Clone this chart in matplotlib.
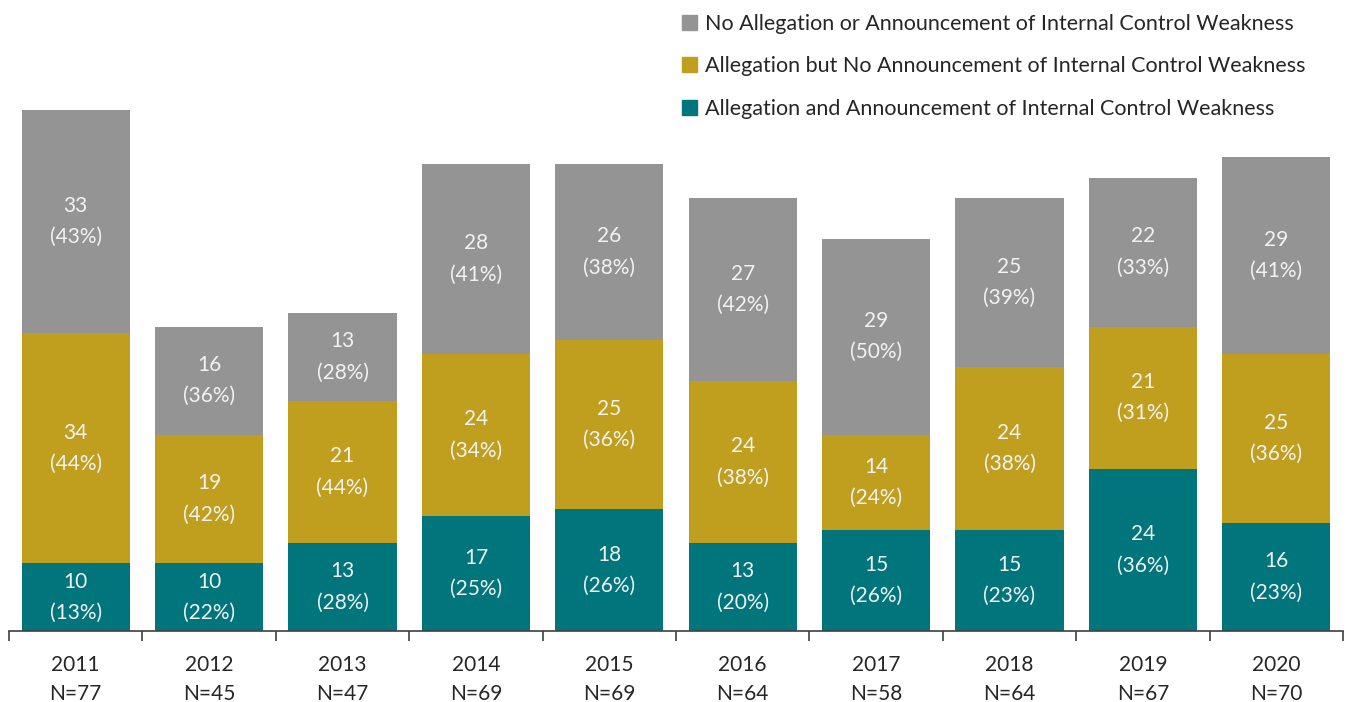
import numpy as np
import matplotlib
matplotlib.use("Agg")
import matplotlib.pyplot as plt
from matplotlib.patches import Patch

years = ["2011", "2012", "2013", "2014", "2015", "2016", "2017", "2018", "2019", "2020"]
both = [10, 10, 13, 17, 18, 13, 15, 15, 24, 16]          # allegation and announcement
alleg_only = [34, 19, 21, 24, 25, 24, 14, 24, 21, 25]    # allegation, no announcement
neither = [33, 16, 13, 28, 26, 27, 29, 25, 22, 29]       # no allegation or announcement
# percentages as printed in the chart (rounded to sum to 100)
both_pct = [13, 22, 28, 25, 26, 20, 26, 23, 36, 23]
alleg_pct = [44, 42, 44, 34, 36, 38, 24, 38, 31, 36]
neither_pct = [43, 36, 28, 41, 38, 42, 50, 39, 33, 41]
series_names = ["Allegation and Announcement of Internal Control Weakness",
                "Allegation but No Announcement of Internal Control Weakness",
                "No Allegation or Announcement of Internal Control Weakness"]
COLORS = ["#00767C", "#C09F1E", "#949494"]

plt.rcParams["font.family"] = ["Lato", "DejaVu Sans"]

fig = plt.figure(figsize=(13.51, 7.02), dpi=100)
ax = fig.add_axes([9 / 1351, 71 / 702, 1334 / 1351, 631 / 702])

x = np.arange(len(years))
data = [np.array(both), np.array(alleg_only), np.array(neither)]
pcts = [both_pct, alleg_pct, neither_pct]
totals = sum(data)
bottom = np.zeros(len(years))
for vals, pc, col, name in zip(data, pcts, COLORS, series_names):
    ax.bar(x, vals, bottom=bottom, width=0.81, color=col, label=name)
    for xi, v, b, p in zip(x, vals, bottom, pc):
        ax.text(xi, b + v / 2, f"{v}\n({p}%)", ha="center", va="center",
                color="#F2F2F2", fontsize=15, linespacing=1.7)
    bottom = bottom + vals

ax.set_xlim(-0.5, len(years) - 0.5)
ax.set_ylim(0, 77 * 631 / 521)
ax.set_xticks(x)
ax.set_xticklabels([f"{y}\nN={t}" for y, t in zip(years, totals)], fontsize=15,
                   color="#262626", linespacing=1.6)
ax.tick_params(axis="x", which="major", length=0, pad=17)
ax.set_xticks(np.arange(-0.5, len(years)), minor=True)
ax.tick_params(axis="x", which="minor", length=7, width=1.2, color="#404040")
ax.set_yticks([])
for s in ["top", "right", "left"]:
    ax.spines[s].set_visible(False)
ax.spines["bottom"].set_color("#404040")
ax.spines["bottom"].set_linewidth(1.2)

handles = [Patch(color=c) for c in COLORS[::-1]]
fig.legend(handles, series_names[::-1], loc="upper left", bbox_to_anchor=(663 / 1351, 1.008),
           frameon=False, fontsize=15.5, handlelength=0.7, handleheight=0.7,
           handletextpad=0.35, labelspacing=1.05, labelcolor="#262626")

fig.savefig("out.png", dpi=100)
